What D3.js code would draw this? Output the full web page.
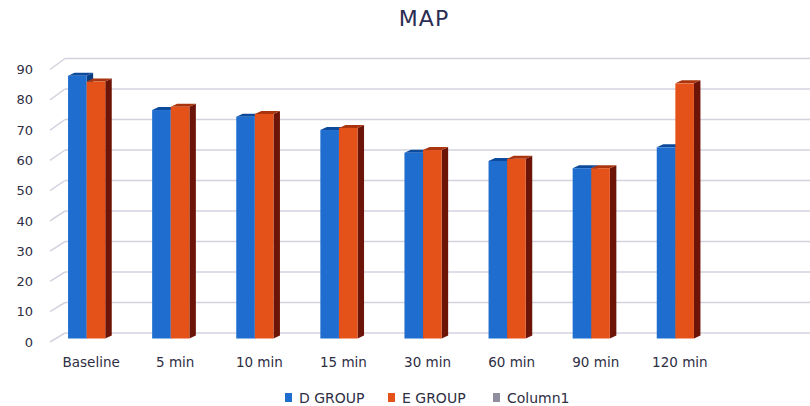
<!DOCTYPE html>
<html>
<head>
  <title>MAP</title>
  <script src="https://d3js.org/d3.v7.min.js"></script>
  <style>
    body { margin: 0; background: #fff; }
    text { font-family: "DejaVu Sans", sans-serif; }
  </style>
</head>
<body>
  <div id="chart"></div>
  <script>
  const categories = ["Baseline", "5 min", "10 min", "15 min", "30 min", "60 min", "90 min", "120 min"];
  const dGroup = [86.7, 75.4, 73.2, 68.8, 61.3, 58.6, 56.2, 63.1];
  const eGroup = [84.8, 76.5, 74.1, 69.5, 62.2, 59.3, 56.2, 84.2];
  const yTicks = [0, 10, 20, 30, 40, 50, 60, 70, 80, 90];
  const legendNames = ["D GROUP", "E GROUP", "Column1"];

  const W = 810, H = 406;
  const colors = {
    d: { front: "#1F6DCF", top: "#0C4A9C", side: "#0A3C82" },
    e: { front: "#E4521A", top: "#A9340E", side: "#6C1407" }
  };

  const svg = d3.select("#chart").append("svg")
    .attr("width", W).attr("height", H);

  // one empty slot after the last category, as in the source chart
  const slots = categories.concat([""]);
  const x = d3.scaleBand().domain(slots).range([44.6, 801.5]);

  // front (labels), bar depth and back wall scales
  const yFront = d3.scaleLinear().domain([0, 90]).range([342, 69.5]);
  const yBar = d3.scaleLinear().domain([0, 90]).range([338.5, 65.8]);
  const yBack = d3.scaleLinear().domain([0, 90]).range([333, 58.5]);

  const frontX = 50, backX = 65;
  const grid = svg.append("g");
  yTicks.forEach(v => {
    grid.append("line")
      .attr("x1", frontX).attr("y1", yFront(v))
      .attr("x2", backX).attr("y2", yBack(v))
      .attr("stroke", "#D3D3E0").attr("stroke-width", 1.5);
    grid.append("line")
      .attr("x1", backX).attr("y1", yBack(v))
      .attr("x2", W).attr("y2", yBack(v))
      .attr("stroke", "#D3D3E0").attr("stroke-width", 1.5);
  });

  svg.append("g").selectAll("text")
    .data(yTicks)
    .join("text")
    .attr("x", 33)
    .attr("y", d => yFront(d))
    .attr("dy", "0.36em")
    .attr("text-anchor", "end")
    .attr("font-size", 13)
    .attr("fill", "#2E2E44")
    .text(d => d);

  const bw = 18.6, dx = 6.5, dy = -3;

  function drawBar(g, x0, v, c) {
    const yt = yBar(v), yb = yBar(0);
    g.append("polygon")
      .attr("points", [[x0 + bw, yt], [x0 + bw + dx, yt + dy], [x0 + bw + dx, yb + dy], [x0 + bw, yb]].join(" "))
      .attr("fill", c.side);
    g.append("polygon")
      .attr("points", [[x0, yt], [x0 + dx, yt + dy], [x0 + bw + dx, yt + dy], [x0 + bw, yt]].join(" "))
      .attr("fill", c.top);
    g.append("rect")
      .attr("x", x0).attr("y", yt)
      .attr("width", bw).attr("height", yb - yt)
      .attr("fill", c.front);
  }

  const bars = svg.append("g");
  categories.forEach((cat, i) => {
    const cx = x(cat) + x.bandwidth() / 2;
    drawBar(bars, cx - bw, dGroup[i], colors.d);
    drawBar(bars, cx, eGroup[i], colors.e);
  });

  svg.append("g").selectAll("text")
    .data(categories)
    .join("text")
    .attr("x", d => x(d) + x.bandwidth() / 2 + 4.5)
    .attr("y", 367)
    .attr("text-anchor", "middle")
    .attr("font-size", 13.5)
    .attr("fill", "#2E2E44")
    .text(d => d);

  svg.append("text")
    .attr("x", 424).attr("y", 26)
    .attr("text-anchor", "middle")
    .attr("font-size", 22)
    .attr("letter-spacing", 1)
    .attr("fill", "#2B2D52")
    .text("MAP");

  // legend
  const legendColors = [colors.d.front, colors.e.front, "#8E8E9E"];
  const legendX = [285, 388, 493];
  const lg = svg.append("g");
  legendNames.forEach((name, i) => {
    lg.append("rect")
      .attr("x", legendX[i]).attr("y", 393)
      .attr("width", 7).attr("height", 9)
      .attr("fill", legendColors[i]);
    lg.append("text")
      .attr("x", legendX[i] + 14).attr("y", 403)
      .attr("font-size", 14)
      .attr("fill", "#2E2E44")
      .text(name);
  });
  </script>
</body>
</html>
